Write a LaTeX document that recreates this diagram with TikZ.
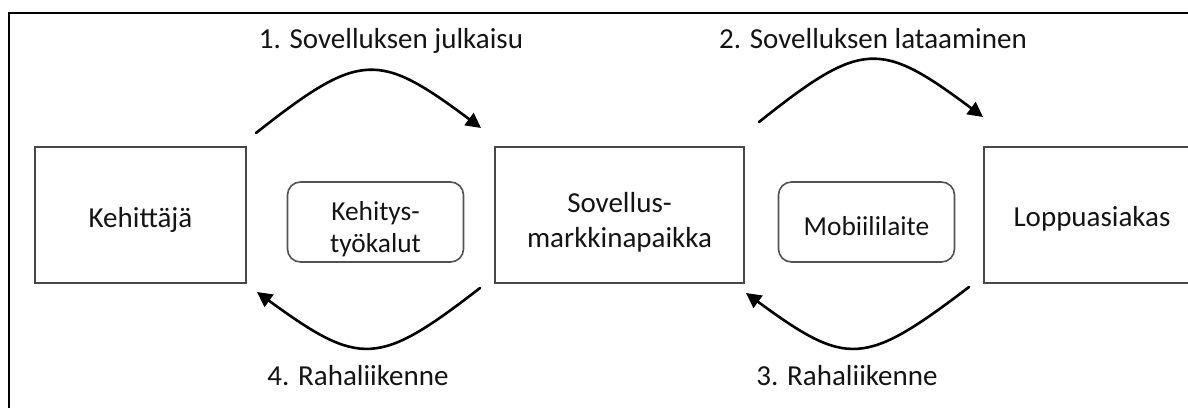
\documentclass[tikz,border=0pt]{standalone}
\usepackage{fontspec}
\setmainfont{Carlito}
\usetikzlibrary{arrows.meta}
% struts that fix the height above and the depth below a line of text
\newcommand{\topstrut}[1]{\rule{0pt}{#1}}
\newcommand{\botstrut}[1]{\rule[-#1]{0pt}{#1}}
\newcommand{\linestrut}[2]{\rule[-#2]{0pt}{\dimexpr#1+#2\relax}}
\begin{document}
\begin{tikzpicture}[x=1pt,y=-1pt,
  bigbox/.style={draw=black!72, line width=1.8pt, inner sep=0pt,
    minimum width=#1, minimum height=136pt, text=black!92,
    font=\fontsize{29pt}{35pt}\selectfont, align=center},
  toolbox/.style={draw=black!68, line width=1.6pt, rounded corners=13pt,
    inner sep=0pt, minimum width=176pt, minimum height=80pt, text=black!92,
    font=\fontsize{27.4pt}{32pt}\selectfont, align=center},
  steplabel/.style={anchor=base, inner sep=0pt, text=black!92,
    font=\fontsize{29pt}{35pt}\selectfont},
  flow/.style={line width=2.6pt, line cap=round,
    -{Triangle[length=15pt,width=15pt]}},
  framestyle/.style={line width=2.6pt}]
\useasboundingbox (0,0) rectangle (1188,407);

% outer frame (only top and left edges are inside the page)
\draw[framestyle] (9,420) -- (9,13) -- (1200,13);

% actors
\node[bigbox=211pt] (dev) at (140.5,215) {\linestrut{32pt}{7pt}Kehittäjä};
\node[bigbox=249pt] (store) at (619.5,215)
  {\topstrut{36pt}Sovellus-\\markkinapaikka\botstrut{7pt}};
\node[bigbox=216pt] (user) at (1092,215) {\linestrut{31pt}{7.6pt}Loppuasiakas};

% tools between the actors
\node[toolbox] (tools) at (375.5,222)
  {\topstrut{35pt}Kehitys-\\työkalut\botstrut{7pt}};
\node[toolbox] (mobile) at (866.5,222) {\linestrut{33pt}{7pt}Mobiililaite};

% end points of the flow arrows
\coordinate (p1s) at (256,133);  \coordinate (p1e) at (481,128);
\coordinate (p2s) at (759,122);  \coordinate (p2e) at (983,117);
\coordinate (p3s) at (969,287);  \coordinate (p3e) at (746,293);
\coordinate (p4s) at (480,288);  \coordinate (p4e) at (257,292);

\draw[flow] (p1s) .. controls (360,51) and (378,51) .. (p1e);
\draw[flow] (p2s) .. controls (862,40) and (880,40) .. (p2e);
\draw[flow] (p3s) .. controls (864,367) and (847,367) .. (p3e);
\draw[flow] (p4s) .. controls (378,367) and (360,367) .. (p4e);

% step labels
\node[steplabel] (l1) at (391,48) {1. Sovelluksen julkaisu};
\node[steplabel] (l2) at (873,48) {2. Sovelluksen lataaminen};
\node[steplabel] (l3) at (847,385) {3. Rahaliikenne};
\node[steplabel] (l4) at (358,385) {4. Rahaliikenne};
\end{tikzpicture}
\end{document}
